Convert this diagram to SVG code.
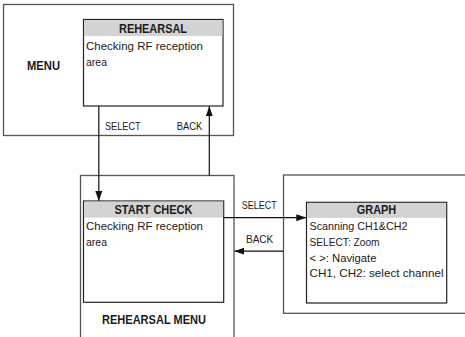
<svg xmlns="http://www.w3.org/2000/svg" width="465" height="337" viewBox="0 0 465 337">
<defs>
<marker id="ah" viewBox="0 0 10 10" refX="10" refY="5" markerWidth="10" markerHeight="10" markerUnits="userSpaceOnUse" orient="auto">
<path d="M0,1.5 L10,5 L0,8.5 Z" fill="#111"/>
</marker>
<style>
.outer{fill:#fff;stroke:#555;stroke-width:1.3}
.screen{fill:#fff;stroke:#222;stroke-width:1.2}
.hdr{fill:#d3d3d3;stroke:none}
.t{font-family:"Liberation Sans",Arial,sans-serif;fill:#1a1a1a}
.title{font-size:12px;font-weight:bold;text-anchor:middle}
.body{font-size:11.8px}
.lbl{font-size:10.5px}
.big{font-size:12px;font-weight:bold;text-anchor:middle}
.conn{stroke:#111;stroke-width:1.2;fill:none}
</style>
</defs>
<g id="menu">
<rect class="outer" x="3.5" y="4.5" width="230" height="131"/>
<text class="t big" x="43.5" y="70" textLength="33" lengthAdjust="spacingAndGlyphs">MENU</text>
</g>
<g id="rehearsal">
<rect class="screen" x="83.5" y="19.5" width="139.5" height="86.5"/>
<rect class="hdr" x="84.1" y="20.1" width="138.3" height="16"/>
<text class="t title" x="153" y="33" textLength="68" lengthAdjust="spacingAndGlyphs">REHEARSAL</text>
<text class="t body" x="86" y="49.5" textLength="117" lengthAdjust="spacingAndGlyphs">Checking RF reception</text>
<text class="t body" x="86" y="65.5" textLength="21" lengthAdjust="spacingAndGlyphs">area</text>
</g>
<g id="rehearsal-menu">
<rect class="outer" x="80.5" y="175.5" width="153.5" height="170"/>
<text class="t big" x="154" y="324" textLength="104" lengthAdjust="spacingAndGlyphs">REHEARSAL MENU</text>
</g>
<g id="start-check">
<rect class="screen" x="83.5" y="201" width="140.2" height="101.3"/>
<rect class="hdr" x="84.1" y="201.6" width="139" height="16"/>
<text class="t title" x="153.5" y="213.5" textLength="78" lengthAdjust="spacingAndGlyphs">START CHECK</text>
<text class="t body" x="86" y="230" textLength="117" lengthAdjust="spacingAndGlyphs">Checking RF reception</text>
<text class="t body" x="86" y="245.5" textLength="21" lengthAdjust="spacingAndGlyphs">area</text>
</g>
<g id="graph-menu">
<rect class="outer" x="283.5" y="175" width="190" height="138.3"/>
</g>
<g id="graph">
<rect class="screen" x="306.5" y="202.3" width="140.2" height="100.7"/>
<rect class="hdr" x="307.1" y="202.9" width="139" height="15"/>
<text class="t title" x="376.5" y="213.5" textLength="39.5" lengthAdjust="spacingAndGlyphs">GRAPH</text>
<text class="t body" x="309.5" y="230" textLength="98" lengthAdjust="spacingAndGlyphs">Scanning CH1&amp;CH2</text>
<text class="t body" x="309.5" y="246" textLength="70" lengthAdjust="spacingAndGlyphs">SELECT: Zoom</text>
<text class="t body" x="309.5" y="262" textLength="67" lengthAdjust="spacingAndGlyphs">&lt; &gt;: Navigate</text>
<text class="t body" x="309.5" y="277" textLength="134" lengthAdjust="spacingAndGlyphs">CH1, CH2: select channel</text>
</g>
<g id="connectors">
<line class="conn" x1="98.8" y1="106" x2="98.8" y2="201" marker-end="url(#ah)"/>
<line class="conn" x1="209.3" y1="175.5" x2="209.3" y2="106.3" marker-end="url(#ah)"/>
<line class="conn" x1="223.7" y1="217.7" x2="306.3" y2="217.7" marker-end="url(#ah)"/>
<line class="conn" x1="283.5" y1="251.2" x2="234.3" y2="251.2" marker-end="url(#ah)"/>
<text class="t lbl" x="105" y="130" textLength="35.7" lengthAdjust="spacingAndGlyphs">SELECT</text>
<text class="t lbl" x="176.7" y="130" textLength="25.6" lengthAdjust="spacingAndGlyphs">BACK</text>
<text class="t lbl" x="241.7" y="209" textLength="35" lengthAdjust="spacingAndGlyphs">SELECT</text>
<text class="t lbl" x="246" y="243.3" textLength="27.3" lengthAdjust="spacingAndGlyphs">BACK</text>
</g>
</svg>
